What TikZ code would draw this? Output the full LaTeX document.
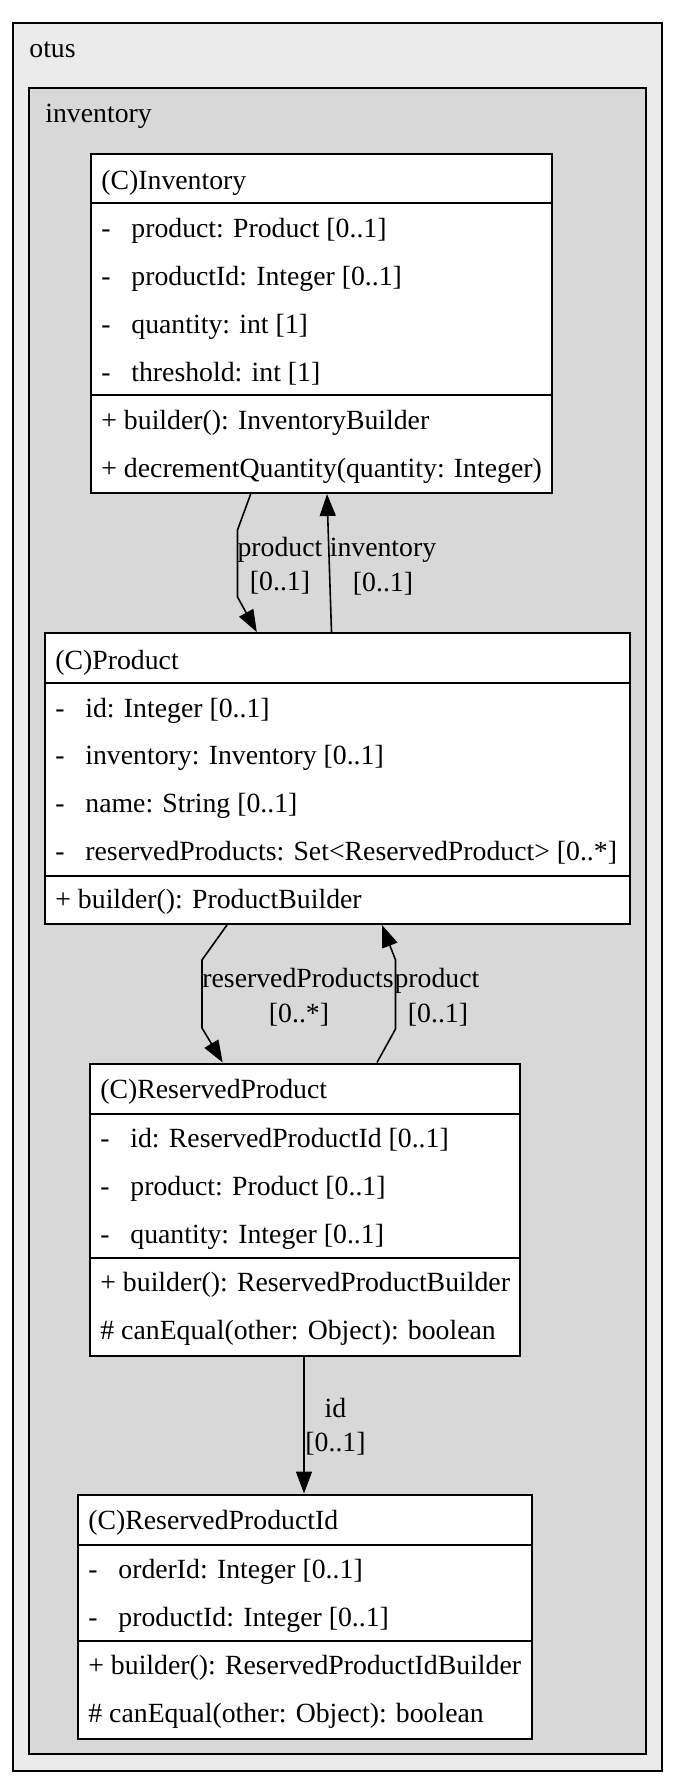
\documentclass[tikz,border=0pt]{standalone}
\usepackage{fontspec}
\setmainfont{Liberation Serif}
\usetikzlibrary{arrows.meta,calc,fit}
\definecolor{otusfill}{RGB}{235,235,235}
\definecolor{invfill}{RGB}{216,216,216}
\newcommand{\umlattr}[4]{%
  \node[lt] (#1-d) at (#2,#3) {-};
  \node[lt] (#1) at ({#2+30},#3) {#4};}
\begin{document}
\begin{tikzpicture}[x=0.5pt,y=-0.5pt,
  font=\fontsize{13.88}{16}\selectfont,
  txt/.style={inner sep=0pt, text height=0.69em, text depth=0.22em, yshift=-2.4pt},
  lt/.style={txt, anchor=west},
  ct/.style={txt, anchor=center},
  pkg/.style={draw=black, line width=1pt},
  classbox/.style={draw=black, fill=white, line width=1pt, inner sep=0pt},
  sep/.style={line width=1pt},
  edge/.style={line width=0.8pt, -{Triangle[length=11pt,width=8pt]}},
]
\useasboundingbox (0,0) rectangle (676,1791);

% packages
\coordinate (o1) at (13,23); \coordinate (o2) at (662,1771);
\node[pkg, fill=otusfill, inner sep=0pt, fit=(o1)(o2)] (otus) {};
\node[lt] (otus-l) at (29,48) {otus};
\coordinate (n1) at (29,88); \coordinate (n2) at (646,1754);
\node[pkg, fill=invfill, inner sep=0pt, fit=(n1)(n2)] (invpkg) {};
\node[lt] (invpkg-l) at (45,113) {inventory};

% Inventory
\coordinate (i1) at (91,154); \coordinate (i2) at (552,493);
\node[classbox, fit=(i1)(i2)] (inv) {};
\draw[sep] (91,203) -- (552,203);
\draw[sep] (91,395) -- (552,395);
\node[lt] (inv-h) at (101,180) {(C)Inventory};
\umlattr{inv-a1}{101}{228}{product: Product [0..1]}
\umlattr{inv-a2}{101}{276}{productId: Integer [0..1]}
\umlattr{inv-a3}{101}{324}{quantity: int [1]}
\umlattr{inv-a4}{101}{372}{threshold: int [1]}
\node[lt] (inv-m1) at (101,420) {+ builder(): InventoryBuilder};
\node[lt] (inv-m2) at (101,468) {+ decrementQuantity(quantity: Integer)};

% Product
\coordinate (p1) at (45,633); \coordinate (p2) at (629.5,924);
\node[classbox, fit=(p1)(p2)] (prod) {};
\draw[sep] (45,683) -- (629.5,683);
\draw[sep] (45,876) -- (629.5,876);
\node[lt] (prod-h) at (55,660) {(C)Product};
\umlattr{prod-a1}{55}{708}{id: Integer [0..1]}
\umlattr{prod-a2}{55}{755}{inventory: Inventory [0..1]}
\umlattr{prod-a3}{55}{803}{name: String [0..1]}
\umlattr{prod-a4}{55}{851}{reservedProducts: Set<ReservedProduct> [0..*]}
\node[lt] (prod-m1) at (55,899) {+ builder(): ProductBuilder};

% ReservedProduct
\coordinate (r1) at (90,1063.5); \coordinate (r2) at (520,1356);
\node[classbox, fit=(r1)(r2)] (rp) {};
\draw[sep] (90,1114) -- (520,1114);
\draw[sep] (90,1258) -- (520,1258);
\node[lt] (rp-h) at (100,1089) {(C)ReservedProduct};
\umlattr{rp-a1}{100}{1138}{id: ReservedProductId [0..1]}
\umlattr{rp-a2}{100}{1186}{product: Product [0..1]}
\umlattr{rp-a3}{100}{1234}{quantity: Integer [0..1]}
\node[lt] (rp-m1) at (100,1282) {+ builder(): ReservedProductBuilder};
\node[lt] (rp-m2) at (100,1330) {\# canEqual(other: Object): boolean};

% ReservedProductId
\coordinate (q1) at (78,1494.5); \coordinate (q2) at (532,1739);
\node[classbox, fit=(q1)(q2)] (rpi) {};
\draw[sep] (78,1545) -- (532,1545);
\draw[sep] (78,1641) -- (532,1641);
\node[lt] (rpi-h) at (88,1520) {(C)ReservedProductId};
\umlattr{rpi-a1}{88}{1569}{orderId: Integer [0..1]}
\umlattr{rpi-a2}{88}{1617}{productId: Integer [0..1]}
\node[lt] (rpi-m1) at (88,1665) {+ builder(): ReservedProductIdBuilder};
\node[lt] (rpi-m2) at (88,1713) {\# canEqual(other: Object): boolean};

% edges
\draw[edge] ($(inv.south west)+(160.7,0)$) -- (237.5,530) -- (237.5,597) -- ($(prod.north west)+(212.8,0)$);
\node[ct] (e1a) at (280,547) {product};
\node[ct] (e1b) at (280,581) {[0..1]};
\draw[edge] ($(prod.north west)+(287.5,0)$) -- ($(inv.south west)+(237,0)$);
\node[ct] (e2a) at (383,547) {inventory};
\node[ct] (e2b) at (383,582) {[0..1]};
\draw[edge] ($(prod.south west)+(183,0)$) -- (202,960) -- (202,1028) -- ($(rp.north west)+(133.7,0)$);
\node[ct] (e3a) at (298,978) {reservedProducts};
\node[ct] (e3b) at (299,1013) {[0..*]};
\draw[edge] ($(rp.north west)+(288,0)$) -- (395.5,1029) -- (395.5,960) -- ($(prod.south west)+(338,0)$);
\node[ct] (e4a) at (437,978) {product};
\node[ct] (e4b) at (438,1013) {[0..1]};
\draw[edge] ($(rp.south west)+(215,0)$) -- ($(rpi.north west)+(227,0)$);
\node[ct] (e5a) at (335.5,1408) {id};
\node[ct] (e5b) at (335.5,1442) {[0..1]};
\end{tikzpicture}
\end{document}
